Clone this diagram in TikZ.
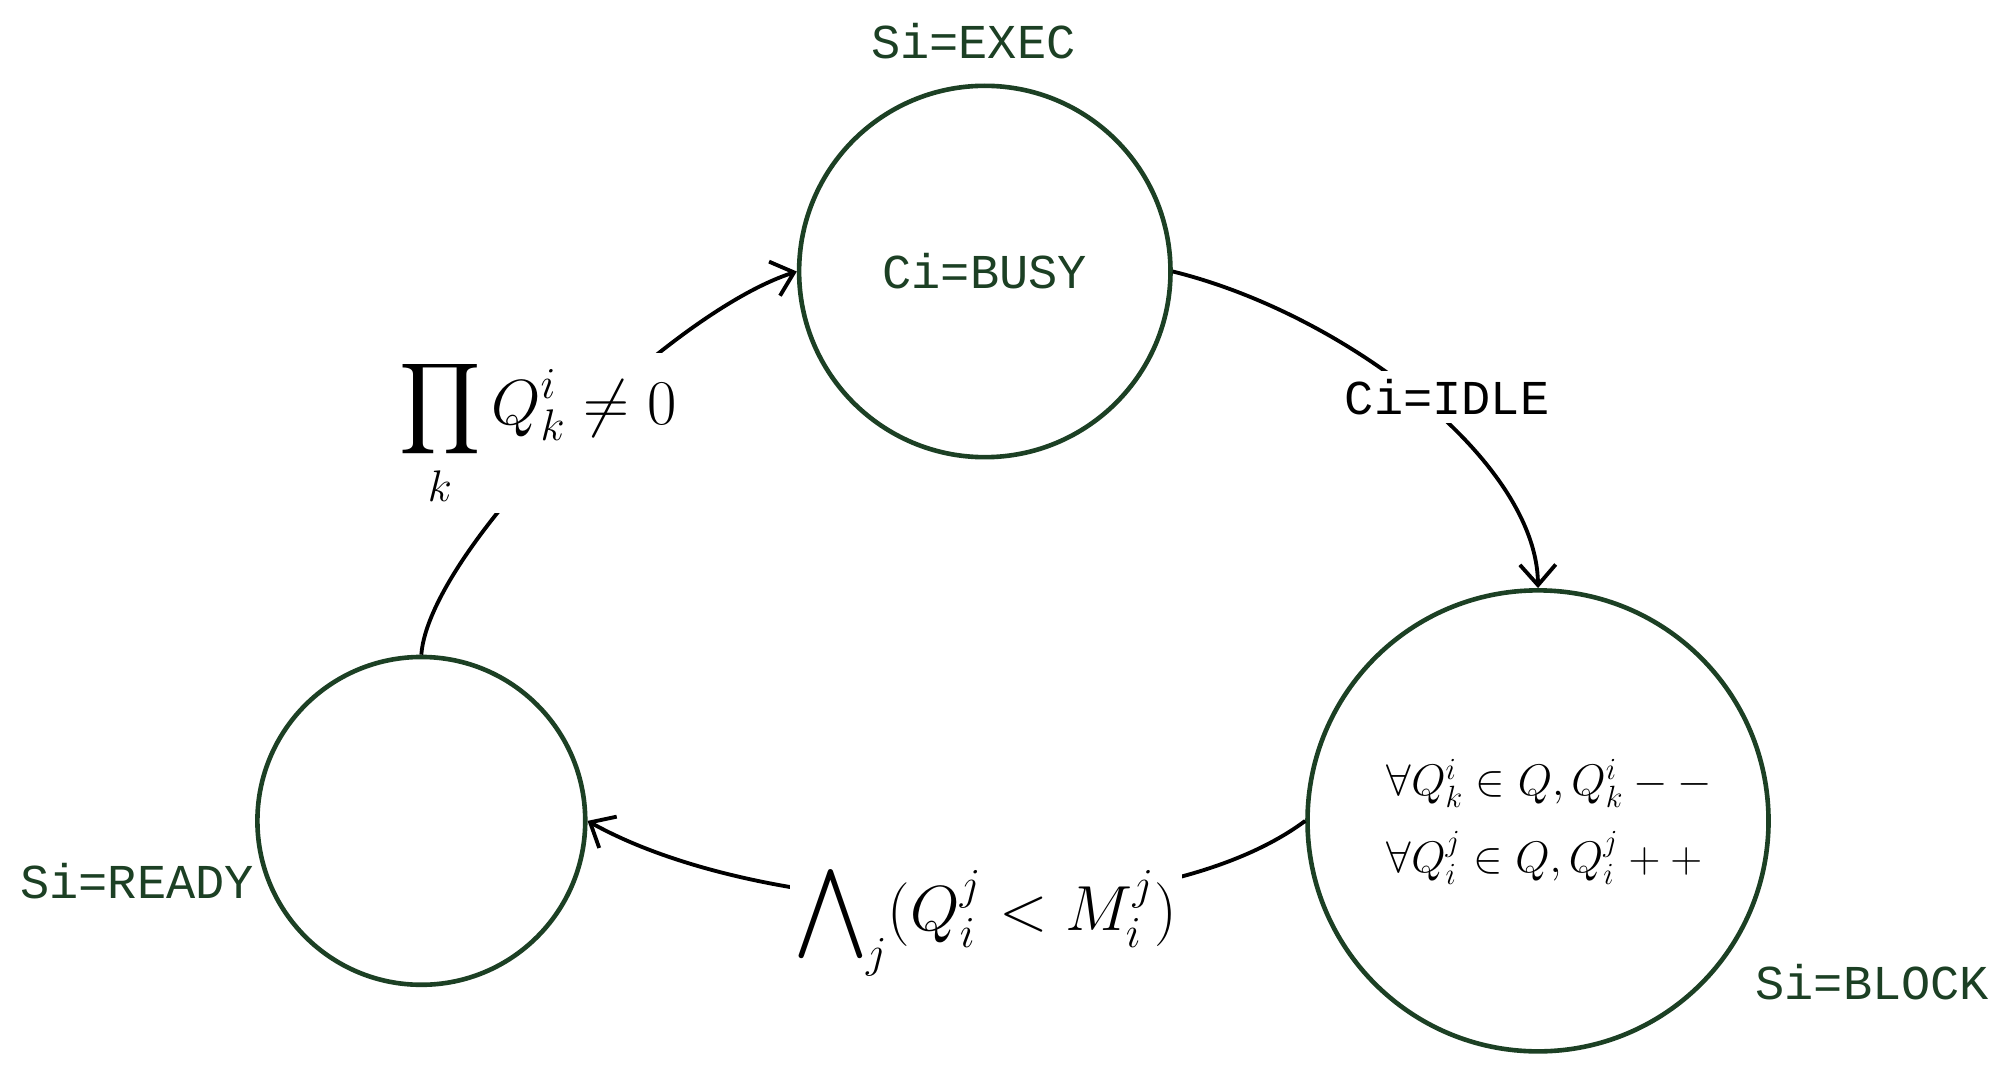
\documentclass[tikz,border=0pt]{standalone}
\usepackage{fontspec}
\usepackage{amsmath}
\setmonofont{Liberation Mono}
\usetikzlibrary{arrows.meta}
\definecolor{dg}{RGB}{28,64,36}
\begin{document}
\begin{tikzpicture}[x=0.5pt,y=-0.5pt,
  st/.style={circle,draw=dg,line width=1.8pt,inner sep=0pt},
  lab/.style={font=\fontsize{19}{22}\selectfont\ttfamily,text=dg},
  arr/.style={line width=1.5pt,-{Straight Barb[length=8pt,width=14pt]}},
  ml/.style={fill=white,inner sep=2pt,font=\fontsize{25}{30}\selectfont}]
\useasboundingbox (0,0) rectangle (1568,841);
\node[st,minimum size=145pt] (exec) at (769,212) {};
\node[st,minimum size=128pt] (ready) at (329,641) {};
\node[st,minimum size=180pt] (block) at (1201,641) {};
\node[lab] (se) at (760,32) {Si=EXEC};
\node[lab] (cb) at (769,212) {Ci=BUSY};
\node[lab] (sr) at (107,688) {Si=READY};
\node[lab] (sb) at (1462,767) {Si=BLOCK};
\node[font=\fontsize{17}{20}\selectfont] (bt) at (1210,643) {$\begin{array}{l}\forall Q_k^i\in Q, Q_k^i--\\[8pt] \forall Q_i^j\in Q, Q_i^j++\end{array}$};
\draw[arr] (ready.north) .. controls (335,430) and (520,245) .. (exec.west);
\draw[arr] (exec.east) .. controls (1050,245) and (1200,360) .. (block.north);
\draw[arr] (block.west) .. controls (900,730) and (600,720) .. (ready.east);
\node[ml] (l1) at (420,338) {$\displaystyle\prod_k Q_k^i \neq 0$};
\node[lab,text=black,fill=white] (ci) at (1130,310) {Ci=IDLE};
\node[ml] (l3) at (770,718) {$\displaystyle\bigwedge\nolimits_j (Q_i^j < M_i^j)$};
\end{tikzpicture}
\end{document}
